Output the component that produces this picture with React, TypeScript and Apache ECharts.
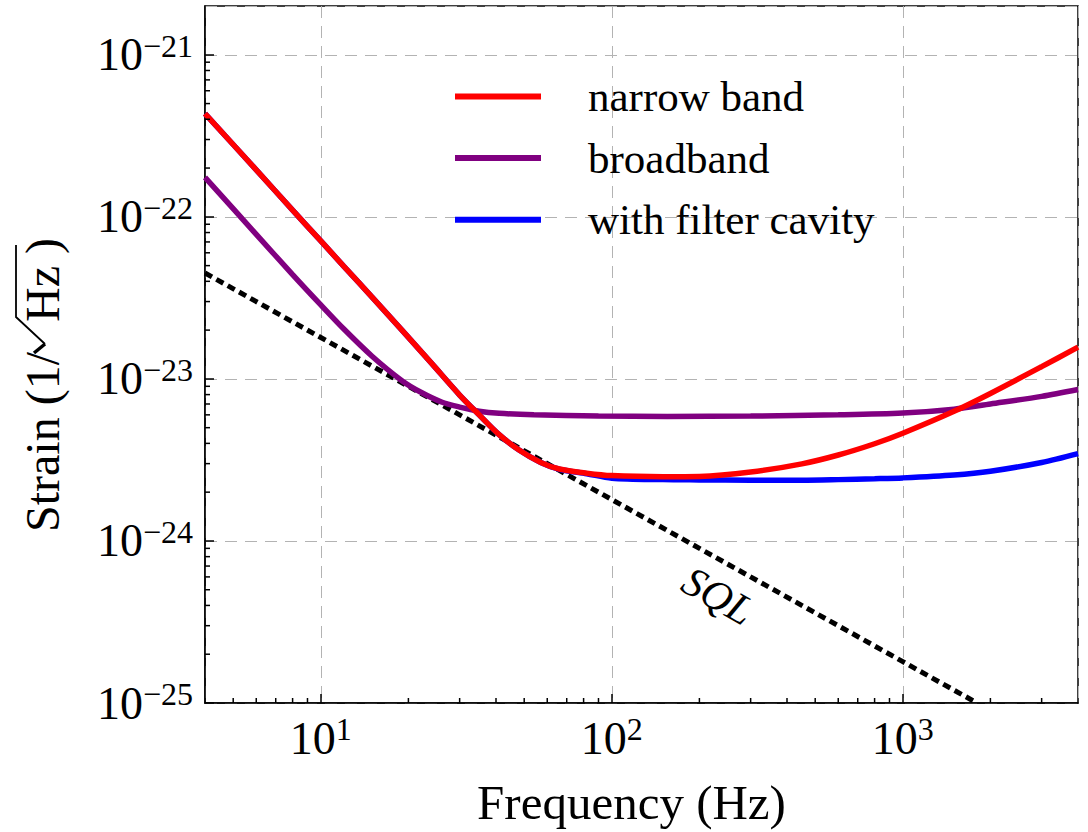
import React, { useEffect, useRef } from 'react';
import * as echarts from 'echarts';

const SERIF = '"Liberation Serif", "Times New Roman", serif';

// y values are strain (1/sqrt(Hz)); they are multiplied by Y_SCALE before being handed
// to the log axis (ECharts log scale rounds very small tick values to zero).
const Y_SCALE = 1e25;
const X_MIN = 4;
const X_MAX = 4000;
const Y_MIN = 1e-25;
const Y_MAX = 2e-21;

// narrow band (red) and with filter cavity (blue)
const FREQ_NB = [4, 6, 8, 10, 12, 15, 19, 24, 30, 35, 41, 48, 57, 66, 82, 100, 150, 200, 300, 450, 600, 800, 1000, 1500, 2000, 3000, 4000];
const NARROW_BAND = [4.33e-22, 1.95e-22, 1.1e-22, 7.1e-23, 4.95e-23, 3.2e-23, 2.0e-23, 1.25e-23, 7.95e-24, 6.0e-24, 4.53e-24, 3.64e-24, 3.05e-24, 2.78e-24, 2.62e-24, 2.53e-24, 2.49e-24, 2.5e-24, 2.66e-24, 2.99e-24, 3.39e-24, 3.98e-24, 4.62e-24, 6.31e-24, 8.13e-24, 1.19e-23, 1.57e-23];
const FILTER_CAVITY = [4.33e-22, 1.95e-22, 1.1e-22, 7.1e-23, 4.95e-23, 3.2e-23, 2.0e-23, 1.25e-23, 7.95e-24, 6.0e-24, 4.53e-24, 3.64e-24, 3.05e-24, 2.77e-24, 2.6e-24, 2.44e-24, 2.39e-24, 2.38e-24, 2.37e-24, 2.37e-24, 2.39e-24, 2.42e-24, 2.45e-24, 2.55e-24, 2.69e-24, 3.05e-24, 3.46e-24];

// broadband (purple)
const FREQ_BB = [4, 6, 8, 10, 12, 15, 19, 22, 26, 30, 35, 41, 54, 90, 155, 300, 600, 1000, 1500, 2000, 3000, 4000];
const BROADBAND = [1.75e-22, 7.8e-23, 4.4e-23, 2.86e-23, 2.03e-23, 1.38e-23, 9.75e-24, 8.3e-24, 7.2e-24, 6.7e-24, 6.32e-24, 6.13e-24, 6.0e-24, 5.9e-24, 5.87e-24, 5.9e-24, 6.0e-24, 6.15e-24, 6.5e-24, 7.0e-24, 7.8e-24, 8.6e-24];

// SQL (black dotted)
const FREQ_SQL = [4, 10, 100, 1000, 1800];
const SQL = [4.5e-23, 1.8e-23, 1.8e-24, 1.8e-25, 1.0e-25];

const LEGEND_NAMES = ['narrow band', 'broadband', 'with filter cavity'];

// minor tick positions
const X_MINOR_TICKS = [5, 6, 7, 8, 9, 20, 30, 40, 50, 60, 70, 80, 90, 200, 300, 400, 500, 600, 700, 800, 900, 2000, 3000];
const Y_MINOR_MULTS = [2, 3, 4, 5, 6, 7, 8, 9];
const Y_MINOR_DECADES = [1e-25, 1e-24, 1e-23, 1e-22];

const toPairs = (xs: number[], ys: number[]) => xs.map((x, i) => [x, ys[i] * Y_SCALE]);

const isDecade = (v: number) => {
  const l = Math.log10(v);
  return Math.abs(l - Math.round(l)) < 1e-6;
};
const fmtExp = (e: number) => (e < 0 ? '\u2212' + Math.abs(e) : String(e));

export default function App() {
  const ref = useRef<HTMLDivElement>(null);

  useEffect(() => {
    if (!ref.current) return;
    const chart = echarts.init(ref.current, undefined, { renderer: 'svg' });

    const yMinor: number[] = [];
    Y_MINOR_DECADES.forEach((d) => Y_MINOR_MULTS.forEach((m) => yMinor.push(m * d)));

    const richLabel = {
      b: { fontSize: 46, lineHeight: 50, fontFamily: SERIF, color: '#000' },
      e: { fontSize: 32, lineHeight: 26, fontFamily: SERIF, color: '#000', verticalAlign: 'top' },
    };

    const lineSeries = (name: string, xs: number[], ys: number[], color: string, z: number) => ({
      type: 'line',
      name,
      data: toPairs(xs, ys),
      showSymbol: false,
      smooth: 0.3,
      color,
      lineStyle: { color, width: 5.5 },
      z,
      silent: true,
    });

    const titleFont = { fontSize: 48, fontFamily: SERIF, fill: '#000', verticalAlign: 'middle' };

    const option: any = {
      animation: false,
      backgroundColor: '#fff',
      grid: {
        left: 205,
        right: 10,
        top: 6,
        bottom: 127,
        show: true,
        borderColor: '#000',
        borderWidth: 1.5,
        backgroundColor: 'transparent',
      },
      legend: {
        data: LEGEND_NAMES,
        orient: 'vertical',
        left: 450,
        top: 70,
        itemWidth: 86,
        itemHeight: 6,
        itemGap: 18.6,
        icon: 'rect',
        selectedMode: false,
        formatter: (name: string) => `{t|${name}}`,
        textStyle: {
          rich: {
            t: { fontSize: 43, lineHeight: 43, fontFamily: SERIF, color: '#000', padding: [0, 0, 0, 42] },
          },
        },
      },
      xAxis: {
        type: 'log',
        logBase: 10,
        min: X_MIN,
        max: X_MAX,
        name: 'Frequency (Hz)',
        nameLocation: 'middle',
        nameGap: 75,
        nameTextStyle: { fontSize: 49, fontFamily: SERIF, color: '#000', padding: [0, 20, 0, 0] },
        axisLine: { show: true, lineStyle: { color: '#000', width: 1.5 } },
        axisTick: { show: true, inside: true, length: 9, lineStyle: { color: '#000', width: 1.5 } },
        minorTick: { show: false },
        axisLabel: {
          margin: 10,
          showMinLabel: false,
          showMaxLabel: false,
          formatter: (v: number) => (isDecade(v) ? `{b|10}{e|${fmtExp(Math.round(Math.log10(v)))}}` : ''),
          rich: richLabel,
        },
        splitLine: { show: true, lineStyle: { color: '#b3b3b3', width: 1, type: [12, 8] } },
      },
      yAxis: {
        type: 'log',
        logBase: 10,
        min: Y_MIN * Y_SCALE,
        max: Y_MAX * Y_SCALE,
        axisLine: { show: true, lineStyle: { color: '#000', width: 1.5 } },
        axisTick: { show: true, inside: true, length: 9, lineStyle: { color: '#000', width: 1.5 } },
        minorTick: { show: false },
        axisLabel: {
          margin: 12,
          showMaxLabel: false,
          formatter: (v: number) =>
            isDecade(v) ? `{b|10}{e|${fmtExp(Math.round(Math.log10(v)) - 25)}}` : '',
          rich: richLabel,
        },
        splitLine: { show: true, lineStyle: { color: '#b3b3b3', width: 1, type: [12, 8] } },
      },
      graphic: [
        // y-axis title: "Strain (1/" + radical + "Hz )"
        {
          type: 'text',
          x: 42,
          y: 352,
          rotation: Math.PI / 2,
          style: { ...titleFont, text: 'Strain (1/', align: 'right' },
        },
        {
          type: 'text',
          x: 42,
          y: 322,
          rotation: Math.PI / 2,
          style: { ...titleFont, text: 'Hz )', align: 'left' },
        },
        {
          type: 'polyline',
          shape: { points: [[34, 353], [45, 344]] },
          style: { stroke: '#000', lineWidth: 3.5, fill: null },
        },
        {
          type: 'polyline',
          shape: { points: [[45, 344], [16, 317], [16, 245]] },
          style: { stroke: '#000', lineWidth: 1.8, fill: null, lineJoin: 'miter' },
        },
        {
          type: 'text',
          x: 718,
          y: 596,
          rotation: -0.52,
          style: {
            text: 'SQL',
            fontSize: 42,
            fontStyle: 'italic',
            fontFamily: SERIF,
            fill: '#000',
            align: 'center',
            verticalAlign: 'middle',
          },
        },
      ],
      series: [
        {
          type: 'line',
          name: 'SQL',
          data: toPairs(FREQ_SQL, SQL),
          showSymbol: false,
          color: '#000',
          lineStyle: { color: '#000', width: 5, type: [8, 5] },
          z: 2,
          silent: true,
        },
        lineSeries('with filter cavity', FREQ_NB, FILTER_CAVITY, '#0000ff', 3),
        lineSeries('broadband', FREQ_BB, BROADBAND, '#800080', 4),
        lineSeries('narrow band', FREQ_NB, NARROW_BAND, '#ff0000', 5),
        {
          type: 'custom',
          name: 'x minor ticks',
          silent: true,
          z: 6,
          data: X_MINOR_TICKS.map((v) => [v, Y_MIN * Y_SCALE]),
          renderItem: (_p: any, api: any) => {
            const p = api.coord([api.value(0), api.value(1)]);
            return {
              type: 'line',
              shape: { x1: p[0], y1: p[1], x2: p[0], y2: p[1] - 5 },
              style: { stroke: '#000', lineWidth: 1.5 },
            };
          },
        },
        {
          type: 'custom',
          name: 'y minor ticks',
          silent: true,
          z: 6,
          data: yMinor.map((v) => [X_MIN, v * Y_SCALE]),
          renderItem: (_p: any, api: any) => {
            const p = api.coord([api.value(0), api.value(1)]);
            return {
              type: 'line',
              shape: { x1: p[0], y1: p[1], x2: p[0] + 5, y2: p[1] },
              style: { stroke: '#000', lineWidth: 1.5 },
            };
          },
        },
      ],
    };

    chart.setOption(option);
    return () => chart.dispose();
  }, []);

  return (
    <div
      ref={ref}
      style={{ position: 'fixed', left: 0, top: 0, width: 1088, height: 832, background: '#fff' }}
    />
  );
}
